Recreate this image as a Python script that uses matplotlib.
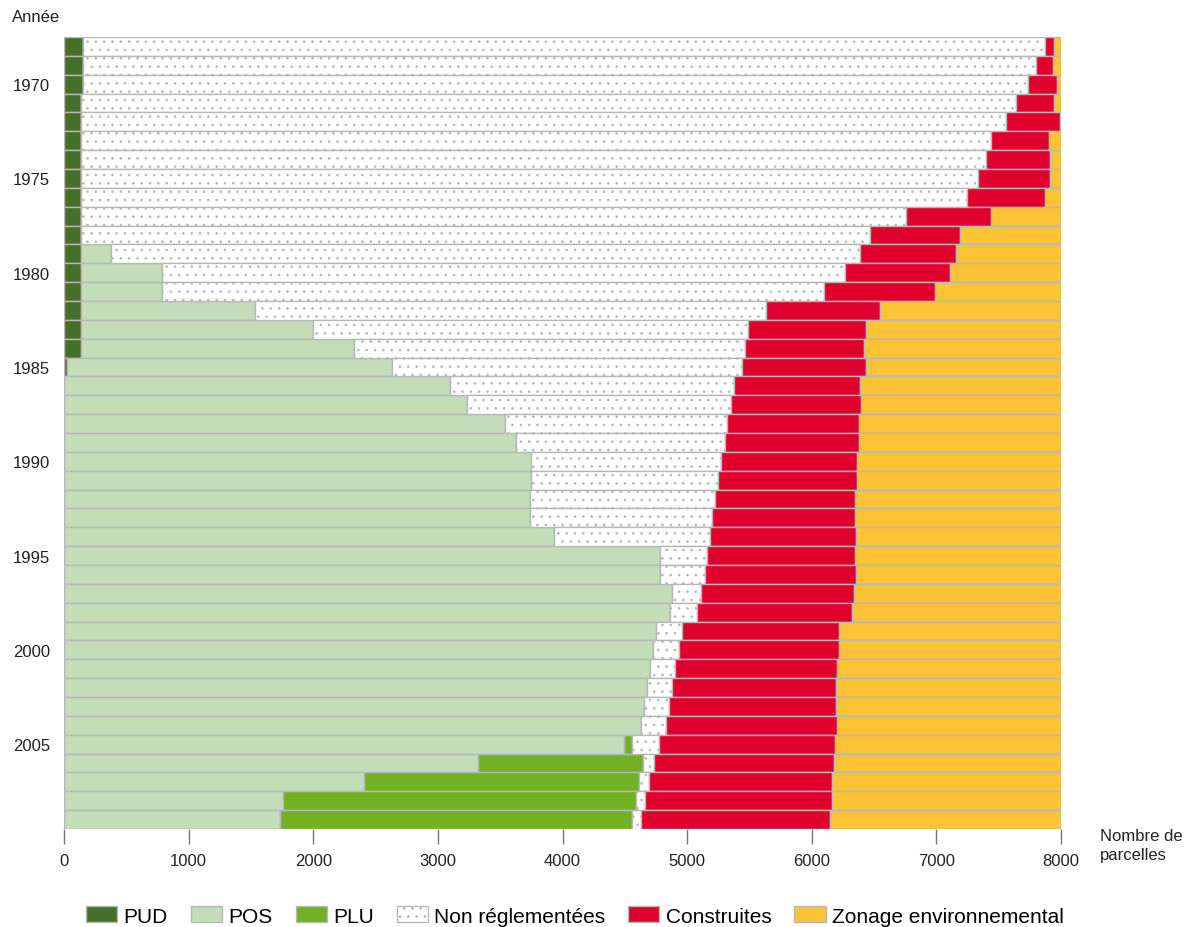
import matplotlib
matplotlib.use("Agg")
import matplotlib.pyplot as plt
import numpy as np
from matplotlib.patches import Patch

plt.rcParams['font.family'] = ['Liberation Sans', 'DejaVu Sans']
plt.rcParams['hatch.color'] = '#4a4a4a'
plt.rcParams['hatch.linewidth'] = 0.7

years = list(range(1968, 2010))
pud = [155, 155, 155] + [140] * 14 + [25] + [0] * 24
pos = [0] * 11 + [238, 649, 649, 1395, 1855, 2186, 2606, 3096, 3230, 3537, 3626,
                  3746, 3746, 3738, 3738, 3930, 4786, 4780, 4876, 4860, 4748, 4724,
                  4700, 4676, 4652, 4630, 4492, 3318, 2404, 1754, 1733]
plu = [0] * 37 + [64, 1329, 2210, 2836, 2828]
non_regl = [7718, 7643, 7584, 7497, 7420, 7297, 7260, 7196, 7102, 6615, 6324, 6006,
            5480, 5309, 4101, 3493, 3138, 2812, 2283, 2125, 1783, 1681, 1529, 1505,
            1483, 1459, 1254, 374, 361, 233, 223, 214, 214, 203, 200, 200, 201, 216,
            85, 80, 72, 72]
construites = [67, 136, 230, 303, 433, 465, 513, 577, 628, 682, 725, 773, 842, 887,
               914, 944, 958, 992, 1011, 1043, 1056, 1069, 1091, 1115, 1126, 1147,
               1168, 1184, 1211, 1232, 1239, 1256, 1280, 1302, 1321, 1345, 1374,
               1414, 1444, 1471, 1503, 1510]
zonage = [60, 66, 31, 60, 7, 98, 87, 87, 130, 563, 811, 843, 889, 1015, 1450, 1568,
          1578, 1565, 1610, 1602, 1624, 1624, 1634, 1634, 1653, 1656, 1648, 1656,
          1648, 1659, 1678, 1782, 1782, 1795, 1803, 1803, 1795, 1814, 1824, 1835,
          1835, 1857]

series = [
    ("PUD", pud, "#476f2a", None),
    ("POS", pos, "#c3ddb8", None),
    ("PLU", plu, "#72b124", None),
    ("Non réglementées", non_regl, "#ffffff", ".."),
    ("Construites", construites, "#e0002d", None),
    ("Zonage environnemental", zonage, "#fbc335", None),
]

xticks = [0, 1000, 2000, 3000, 4000, 5000, 6000, 7000, 8000]
ytick_years = [1970, 1975, 1980, 1985, 1990, 1995, 2000, 2005]

fig = plt.figure(figsize=(11.91, 9.28), dpi=100)
ax = fig.add_axes([64 / 1191, 1 - 830 / 928, (1061 - 64) / 1191, (830 - 38) / 928])

pos_idx = np.arange(len(years))
left = np.zeros(len(years))
handles = []
for name, vals, color, hatch in series:
    vals = np.array(vals, dtype=float)
    ax.barh(pos_idx, vals, left=left, height=1.0, color=color,
            edgecolor='#b8b8b8', linewidth=1.0, hatch=hatch)
    left += vals
    handles.append(Patch(facecolor=color, edgecolor='#b8b8b8', hatch=hatch, label=name))

ax.set_ylim(len(years) - 0.5, -0.5)
ax.set_xlim(0, 8000)
ax.set_yticks([years.index(y) for y in ytick_years])
ax.set_yticklabels([str(y) for y in ytick_years], fontsize=12, color='#222222')
ax.tick_params(axis='y', length=0, pad=10)
ax.set_xticks(xticks)
ax.set_xticklabels([str(x) for x in xticks], fontsize=12, color='#222222')
ax.tick_params(axis='x', length=11, width=1, color='#777777', pad=6)
for s in ['top', 'right', 'bottom']:
    ax.spines[s].set_visible(False)
ax.spines['left'].set_color('#b8b8b8')

fig.text(12 / 1191, 1 - 18 / 928, "Année", fontsize=12, va='center', ha='left', color='#222222')
fig.text(1100 / 1191, 1 - 846 / 928, "Nombre de\nparcelles", fontsize=12, va='center',
         ha='left', color='#222222', linespacing=1.35)

fig.legend(handles=handles, loc='center', bbox_to_anchor=(575 / 1191, 1 - 917 / 928),
           ncol=6, frameon=False, fontsize=15, handlelength=1.5, handleheight=0.8,
           handletextpad=0.3, columnspacing=1.1)

fig.savefig("out.png", dpi=100)
